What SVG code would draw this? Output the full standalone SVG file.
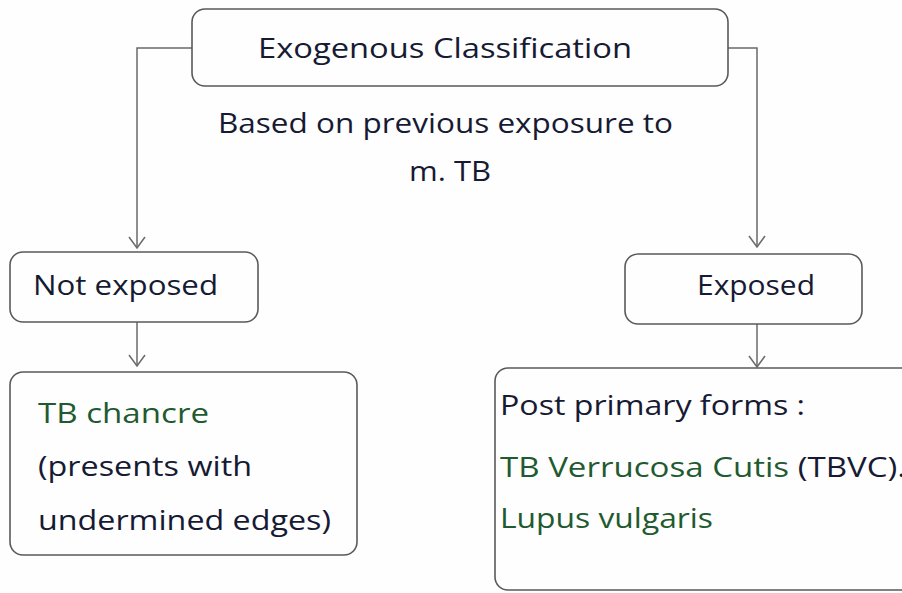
<svg xmlns="http://www.w3.org/2000/svg" width="902" height="593" viewBox="0 0 902 593">
  <style>
    .box { fill: none; stroke: #5a5a5a; stroke-width: 1.6; }
    .edge { fill: none; stroke: #6a6a6a; stroke-width: 1.5; }
    text { font-family: "Open Sans", "Liberation Sans", sans-serif; font-size: 27px; fill: #161a33; }
    .green { fill: #1f5a30; }
  </style>
  <defs>
    <!-- open chevron arrowhead, drawn along +x so orient="auto" points it down the line -->
    <marker id="chev" viewBox="0 0 14 20" refX="13" refY="10" markerWidth="14" markerHeight="20" markerUnits="userSpaceOnUse" orient="auto">
      <path d="M2 2 L13 10 L2 18" fill="none" stroke="#6a6a6a" stroke-width="1.5"/>
    </marker>
  </defs>
  <rect width="902" height="593" fill="#fefefe"/>

  <g id="connectors">
    <path class="edge" d="M192 48 H137 V248" marker-end="url(#chev)"/>
    <path class="edge" d="M728 48 H757 V247" marker-end="url(#chev)"/>
    <path class="edge" d="M137 322 V366" marker-end="url(#chev)"/>
    <path class="edge" d="M757 324 V367" marker-end="url(#chev)"/>
  </g>

  <g id="root">
    <rect class="box" x="192" y="9" width="536" height="77" rx="13"/>
    <text x="258" y="58" textLength="374" lengthAdjust="spacingAndGlyphs">Exogenous Classification</text>
  </g>

  <g id="basis">
    <text x="218" y="133" textLength="455" lengthAdjust="spacingAndGlyphs">Based on previous exposure to</text>
    <text x="409" y="181" textLength="82" lengthAdjust="spacingAndGlyphs">m. TB</text>
  </g>

  <g id="not-exposed">
    <rect class="box" x="10" y="252" width="248" height="70" rx="13"/>
    <text x="33" y="295" textLength="185" lengthAdjust="spacingAndGlyphs">Not exposed</text>
  </g>

  <g id="exposed">
    <rect class="box" x="625" y="254" width="237" height="70" rx="13"/>
    <text x="697" y="295" textLength="118" lengthAdjust="spacingAndGlyphs">Exposed</text>
  </g>

  <g id="tb-chancre">
    <rect class="box" x="10" y="372" width="347" height="183" rx="13"/>
    <text class="green" x="38" y="423" textLength="171" lengthAdjust="spacingAndGlyphs">TB chancre</text>
    <text x="38" y="476" textLength="214" lengthAdjust="spacingAndGlyphs">(presents with</text>
    <text x="38" y="530" textLength="293" lengthAdjust="spacingAndGlyphs">undermined edges)</text>
  </g>

  <g id="post-primary">
    <rect class="box" x="495" y="368" width="430" height="222" rx="13"/>
    <text x="500" y="415" textLength="305" lengthAdjust="spacingAndGlyphs">Post primary forms :</text>
    <text x="500" y="477" textLength="406" lengthAdjust="spacingAndGlyphs"><tspan class="green">TB Verrucosa Cutis</tspan> (TBVC).</text>
    <text class="green" x="500" y="528" textLength="213" lengthAdjust="spacingAndGlyphs">Lupus vulgaris</text>
  </g>
</svg>
